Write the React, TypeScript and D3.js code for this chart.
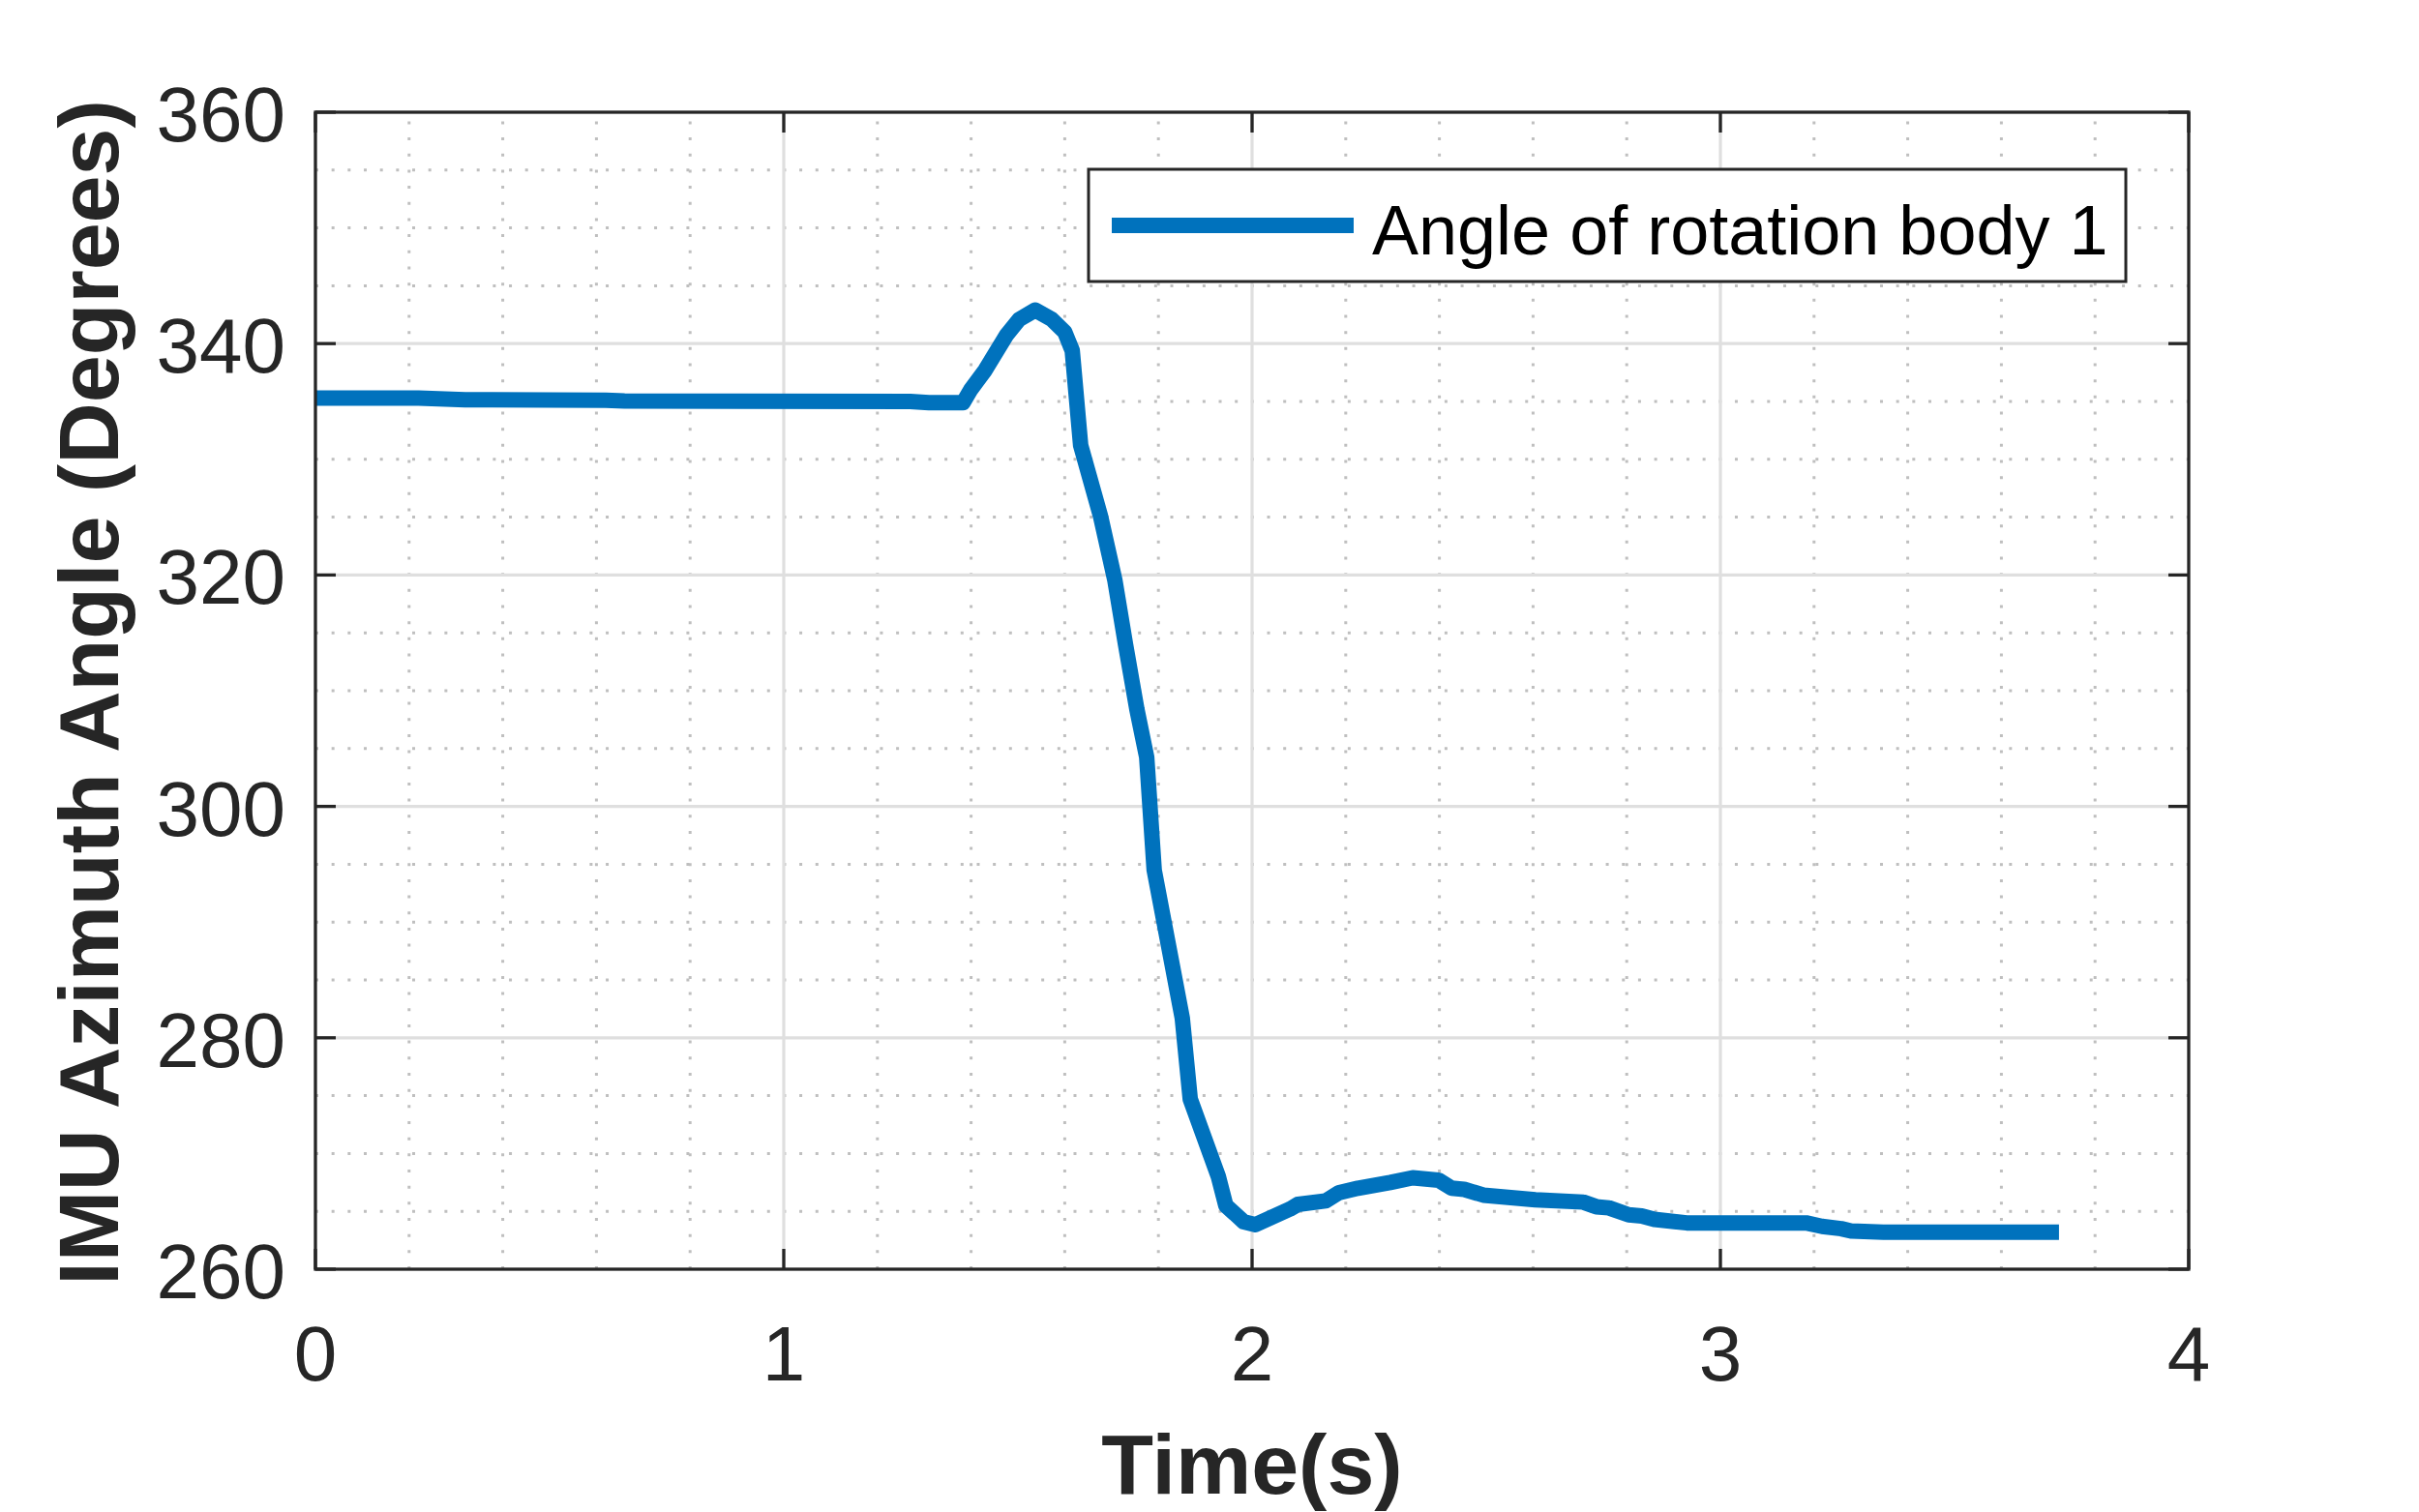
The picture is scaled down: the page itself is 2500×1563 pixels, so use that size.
import { useEffect, useRef } from "react";
import * as d3 from "d3";

// time (s) and azimuth angle (degrees)
const TIME = [
  0, 0.22, 0.32, 0.62, 0.66, 1.27, 1.31, 1.383, 1.399, 1.43, 1.475, 1.503,
  1.537, 1.572, 1.6, 1.616, 1.634, 1.676, 1.707, 1.73, 1.754, 1.775, 1.791,
  1.851, 1.868, 1.928, 1.944, 1.982, 2.007, 2.048, 2.081, 2.098, 2.157, 2.185,
  2.226, 2.295, 2.343, 2.398, 2.426, 2.453, 2.494, 2.535, 2.605, 2.707, 2.735,
  2.762, 2.804, 2.832, 2.859, 2.928, 3.183, 3.217, 3.258, 3.279, 3.348, 3.723,
];
const ANGLE = [
  335.3, 335.3, 335.15, 335.1, 335.05, 335.0, 334.9, 334.9, 336.0, 337.7, 340.7, 342.1,
  342.9, 342.1, 341.0, 339.4, 331.2, 325.15, 319.55, 313.95, 308.4, 304.25, 294.5,
  281.7, 274.7, 268.0, 265.5, 264.1, 263.85, 264.6, 265.2, 265.6, 265.9, 266.6,
  267.0, 267.5, 267.9, 267.7, 267.0, 266.9, 266.4, 266.25, 266.0, 265.8, 265.4,
  265.3, 264.7, 264.6, 264.3, 264.0, 264.0, 263.7, 263.5, 263.3, 263.2, 263.2,
];

const X_TICKS = [0, 1, 2, 3, 4];
const Y_TICKS = [260, 280, 300, 320, 340, 360];
const X_MINOR = d3.range(1, 20).map((i) => i * 0.2).filter((v) => Math.abs(v - Math.round(v)) > 1e-6);
const Y_MINOR = d3.range(1, 20).map((i) => 260 + i * 5).filter((v) => v % 20 !== 0);

const SERIES_LABEL = "Angle of rotation body 1";

const FONT = "'Liberation Sans', Arial, Helvetica, sans-serif";
const AXIS_COLOR = "#262626";
const LINE_COLOR = "#0072bd";

export default function App() {
  const svgRef = useRef<SVGSVGElement>(null);

  useEffect(() => {
    if (!svgRef.current) return;
    const width = 2500;
    const height = 1563;
    const left = 326;
    const right = 2262;
    const top = 116;
    const bottom = 1312;

    d3.select(svgRef.current).selectAll("*").remove();
    const svg = d3.select(svgRef.current)
      .attr("width", width)
      .attr("height", height)
      .attr("viewBox", `0 0 ${width} ${height}`);

    svg.append("rect").attr("width", width).attr("height", height).attr("fill", "#ffffff");

    const x = d3.scaleLinear().domain([0, 4]).range([left, right]);
    const y = d3.scaleLinear().domain([260, 360]).range([bottom, top]);

    // minor grid (dotted)
    const minor = svg.append("g")
      .attr("stroke", "#bfbfbf")
      .attr("stroke-width", 3)
      .attr("stroke-dasharray", "3 13.67");
    X_MINOR.forEach((t) => {
      minor.append("line")
        .attr("x1", x(t)).attr("x2", x(t))
        .attr("y1", bottom).attr("y2", top);
    });
    Y_MINOR.forEach((v) => {
      minor.append("line")
        .attr("x1", left).attr("x2", right)
        .attr("y1", y(v)).attr("y2", y(v));
    });

    // major grid
    const major = svg.append("g").attr("stroke", "#dfdfdf").attr("stroke-width", 3.2);
    X_TICKS.slice(1, -1).forEach((t) => {
      major.append("line").attr("x1", x(t)).attr("x2", x(t)).attr("y1", top).attr("y2", bottom);
    });
    Y_TICKS.slice(1, -1).forEach((v) => {
      major.append("line").attr("x1", left).attr("x2", right).attr("y1", y(v)).attr("y2", y(v));
    });

    // data line
    const points = TIME.map((t, i) => [t, ANGLE[i]] as [number, number]);
    const lineGen = d3.line<[number, number]>().x((d) => x(d[0])).y((d) => y(d[1]));
    svg.append("path")
      .datum(points)
      .attr("d", lineGen)
      .attr("fill", "none")
      .attr("stroke", LINE_COLOR)
      .attr("stroke-width", 16)
      .attr("stroke-linejoin", "round")
      .attr("stroke-linecap", "butt");

    // axes box and inward ticks
    const tickLen = 21;
    const axes = svg.append("g").attr("stroke", AXIS_COLOR).attr("stroke-width", 3.3);
    axes.append("rect")
      .attr("x", left).attr("y", top)
      .attr("width", right - left).attr("height", bottom - top)
      .attr("fill", "none");
    X_TICKS.forEach((t) => {
      axes.append("line").attr("x1", x(t)).attr("x2", x(t)).attr("y1", bottom).attr("y2", bottom - tickLen);
      axes.append("line").attr("x1", x(t)).attr("x2", x(t)).attr("y1", top).attr("y2", top + tickLen);
    });
    Y_TICKS.forEach((v) => {
      axes.append("line").attr("x1", left).attr("x2", left + tickLen).attr("y1", y(v)).attr("y2", y(v));
      axes.append("line").attr("x1", right).attr("x2", right - tickLen).attr("y1", y(v)).attr("y2", y(v));
    });

    // tick labels
    X_TICKS.forEach((t) => {
      svg.append("text")
        .attr("x", x(t)).attr("y", 1427)
        .attr("text-anchor", "middle")
        .attr("font-family", FONT).attr("font-size", 80)
        .attr("fill", AXIS_COLOR)
        .text(`${t}`);
    });
    Y_TICKS.forEach((v) => {
      svg.append("text")
        .attr("x", 295).attr("y", y(v) + 30)
        .attr("text-anchor", "end")
        .attr("font-family", FONT).attr("font-size", 80)
        .attr("fill", AXIS_COLOR)
        .text(`${v}`);
    });

    // axis titles
    svg.append("text")
      .attr("x", (left + right) / 2).attr("y", 1544)
      .attr("text-anchor", "middle")
      .attr("font-family", FONT).attr("font-size", 88).attr("font-weight", "bold")
      .attr("fill", AXIS_COLOR)
      .text("Time(s)");
    svg.append("text")
      .attr("transform", `translate(122, ${(top + bottom) / 2 + 2}) rotate(-90)`)
      .attr("text-anchor", "middle")
      .attr("font-family", FONT).attr("font-size", 88).attr("font-weight", "bold")
      .attr("fill", AXIS_COLOR)
      .text("IMU Azimuth Angle (Degrees)");

    // legend
    const legend = svg.append("g");
    legend.append("rect")
      .attr("x", 1125).attr("y", 175)
      .attr("width", 1072).attr("height", 116)
      .attr("fill", "#ffffff")
      .attr("stroke", AXIS_COLOR).attr("stroke-width", 3);
    legend.append("line")
      .attr("x1", 1149).attr("x2", 1399)
      .attr("y1", 233).attr("y2", 233)
      .attr("stroke", LINE_COLOR).attr("stroke-width", 16);
    legend.append("text")
      .attr("x", 1418).attr("y", 263)
      .attr("font-family", FONT).attr("font-size", 72)
      .attr("fill", "#000000")
      .text(SERIES_LABEL);
  }, []);

  return (
    <svg ref={svgRef} style={{ position: "absolute", left: 0, top: 0, display: "block" }} />
  );
}
